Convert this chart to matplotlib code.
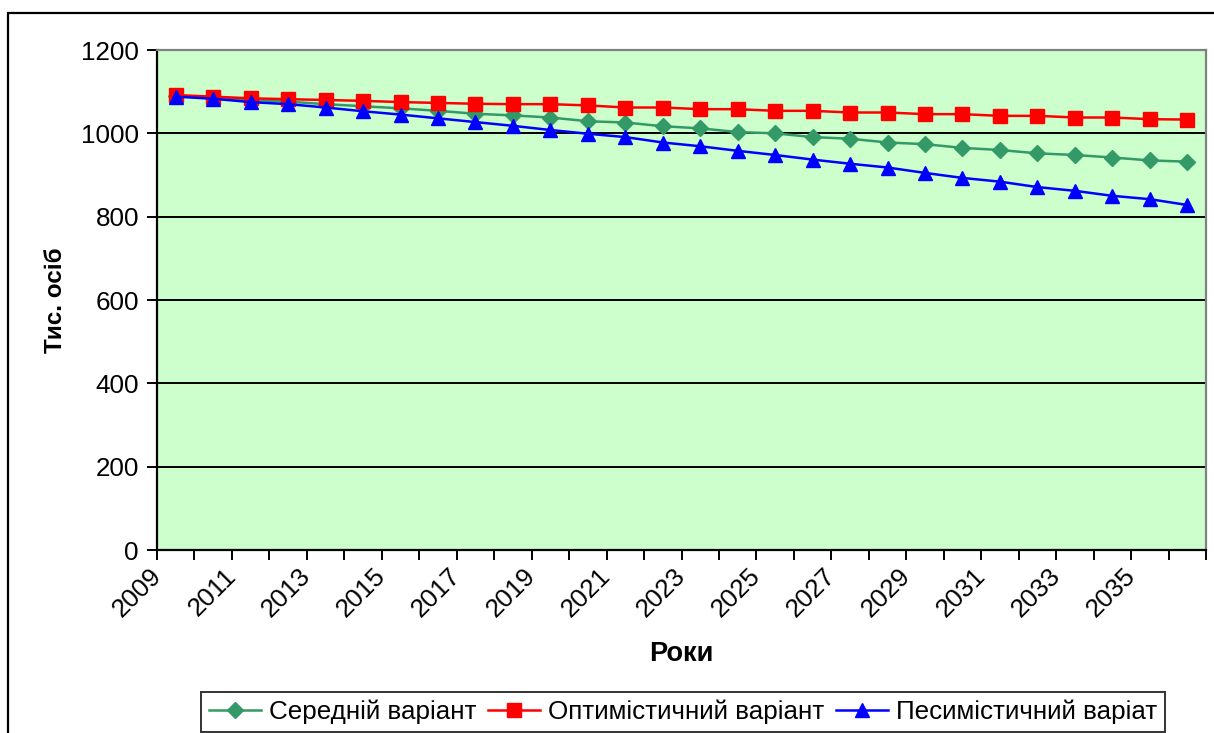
import matplotlib
matplotlib.use("Agg")
import matplotlib.pyplot as plt
from matplotlib.patches import Rectangle
from matplotlib.transforms import ScaledTranslation

plt.rcParams['font.family'] = ['Liberation Sans', 'DejaVu Sans']

years = list(range(2009, 2037))
medium = [1090, 1086, 1080, 1076, 1070, 1065, 1060, 1054, 1047, 1043, 1038, 1029, 1026,
          1017, 1012, 1003, 1000, 991, 987, 978, 974, 965, 960, 952, 948, 942, 935, 932]
optimistic = [1092, 1088, 1084, 1082, 1080, 1078, 1075, 1073, 1071, 1070, 1070, 1067, 1062,
              1062, 1058, 1058, 1054, 1054, 1050, 1050, 1046, 1046, 1042, 1042, 1038, 1038,
              1034, 1033]
pessimistic = [1088, 1083, 1075, 1070, 1062, 1053, 1045, 1036, 1027, 1018, 1008, 999, 991,
               978, 969, 958, 948, 937, 927, 918, 905, 893, 884, 871, 862, 850, 842, 828]
y_ticks = [0, 200, 400, 600, 800, 1000, 1200]

fs = 18.7

fig = plt.figure(figsize=(12.14, 7.33), dpi=100)
ax = fig.add_axes([157 / 1214, 1 - 550 / 733, 1049 / 1214, 500 / 733])
ax.set_facecolor('#CCFFCC')

# chart area border
fig.patches.append(Rectangle((8 / 1214, -0.05), 1.2, 1 - 13 / 733 + 0.05,
                             transform=fig.transFigure, fill=False,
                             edgecolor='black', linewidth=1.6, zorder=0))

x = list(range(len(years)))
ax.plot(x, medium, color='#339966', lw=1.8, marker='D', ms=8,
        label='Середній варіант', zorder=3)
ax.plot(x, optimistic, color='#FF0000', lw=1.8, marker='s', ms=9.5,
        label='Оптимістичний варіант', zorder=3)
ax.plot(x, pessimistic, color='#0000FF', lw=1.8, marker='^', ms=10.5,
        label='Песимістичний варіат', zorder=4)

ax.set_xlim(-0.5, len(years) - 0.5)
ax.set_ylim(0, 1200)
ax.set_yticks(y_ticks)
ax.yaxis.grid(True, color='black', lw=1.4)
ax.set_axisbelow(True)

# labels every second year, tick marks at category borders
ax.set_xticks(x[::2])
ax.set_xticklabels([str(y) for y in years[::2]], rotation=45, ha='right',
                   fontsize=fs)
ax.set_xticks([i - 0.5 for i in range(len(years) + 1)], minor=True)
ax.tick_params(axis='x', which='major', length=0, pad=10)
ax.tick_params(axis='x', which='minor', length=7, width=1.4, direction='out')
ax.tick_params(axis='y', length=7, width=1.4, labelsize=fs, pad=6)
for lab in ax.get_xticklabels():
    lab.set_transform(lab.get_transform() + ScaledTranslation(-0.10, 0, fig.dpi_scale_trans))

for side in ['left', 'bottom']:
    ax.spines[side].set_color('black')
    ax.spines[side].set_linewidth(1.6)
for side in ['top', 'right']:
    ax.spines[side].set_color('#808080')
    ax.spines[side].set_linewidth(1.6)

ax.set_xlabel('Роки', fontsize=19.5, fontweight='bold', labelpad=14)
ax.set_ylabel('Тис. осіб', fontsize=17.5, fontweight='bold', labelpad=10)

leg = fig.legend(loc='center', bbox_to_anchor=(683 / 1214, 1 - 712 / 733), ncol=3,
                 fontsize=fs, frameon=True, fancybox=False, edgecolor='black',
                 handlelength=2.0, handletextpad=0.3, columnspacing=0.45,
                 borderpad=0.3, borderaxespad=0)
leg.get_frame().set_linewidth(1.4)

fig.savefig('out.png', dpi=100)
